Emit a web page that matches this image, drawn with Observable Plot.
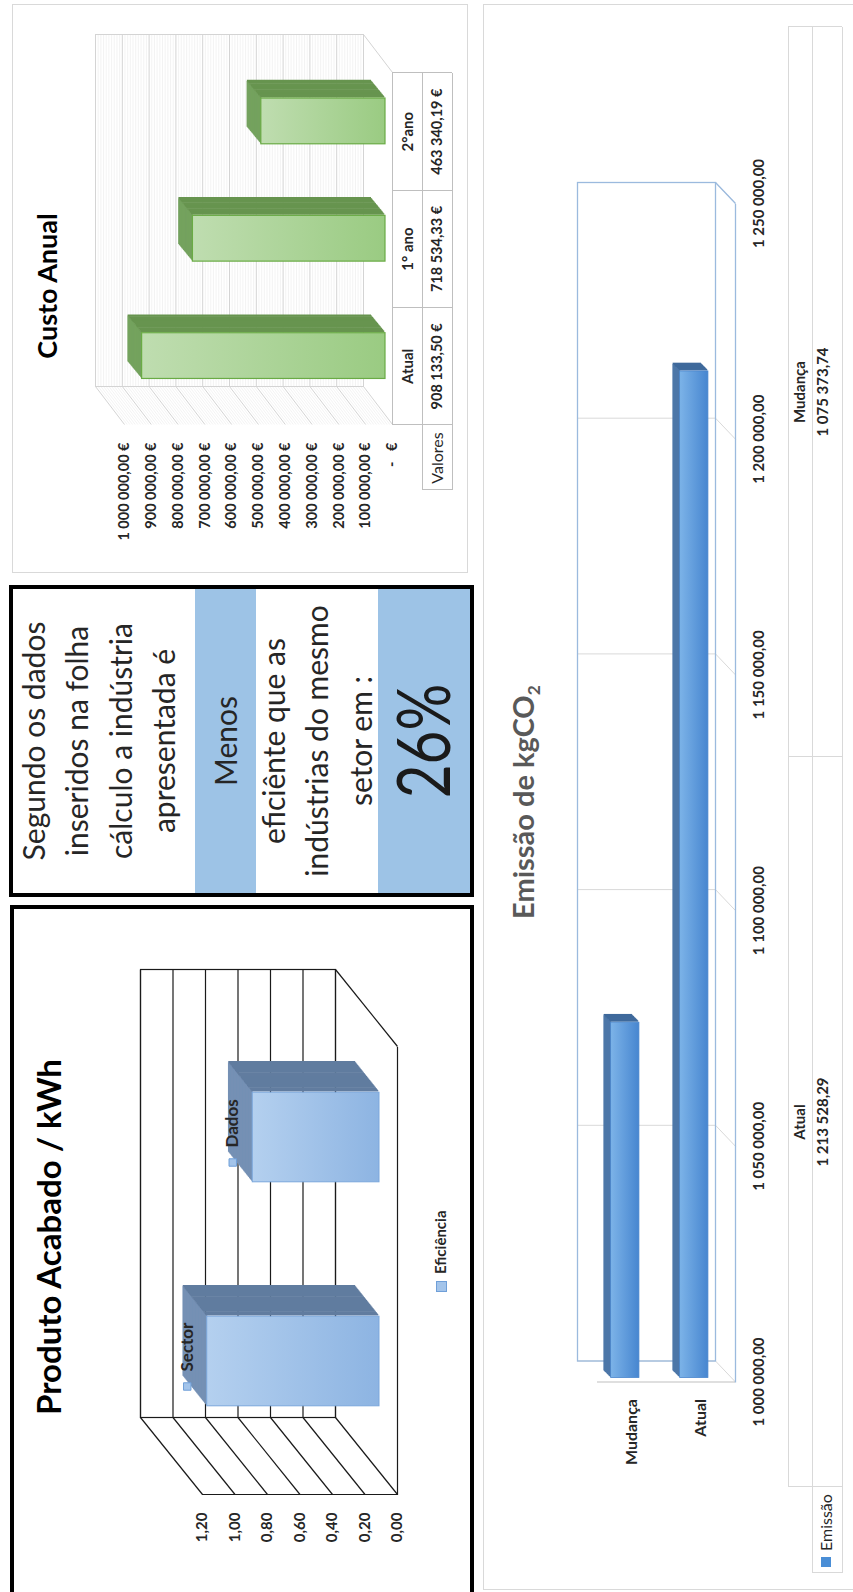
<!DOCTYPE html>
<html lang="pt">
<head>
<meta charset="utf-8">
<title>Painel de eficiência</title>
<script src="https://cdn.jsdelivr.net/npm/d3@7"></script>
<script src="https://cdn.jsdelivr.net/npm/@observablehq/plot@0.6"></script>
<style>
  html, body { margin:0; padding:0; background:#fff; overflow:hidden; }
  body { width:853px; height:1592px; position:relative; font-family: Lato, "Open Sans", sans-serif; }
  #land { position:absolute; left:0; top:0; width:1592px; height:853px; transform-origin:0 0;
          transform: translate(0px,1592px) rotate(-90deg); background:#fff; }
  .box { position:absolute; box-sizing:border-box; }
  .txt { position:absolute; white-space:nowrap; line-height:1.2; }
  .sub { position:relative; top:6px; font-size:0.6em; }
</style>
</head>
<body>
<svg width="0" height="0" style="position:absolute;left:0;top:0">
  <defs>
    <linearGradient id="gProd" x1="0" y1="0" x2="0" y2="1">
      <stop offset="0" stop-color="#b4d0ef"/><stop offset="1" stop-color="#8db4e2"/>
    </linearGradient>
    <linearGradient id="gCusto" x1="0" y1="0" x2="0" y2="1">
      <stop offset="0" stop-color="#bfddb0"/><stop offset="1" stop-color="#9acb82"/>
    </linearGradient>
    <linearGradient id="gEmis" x1="0" y1="0" x2="0" y2="1">
      <stop offset="0" stop-color="#7cb3e8"/><stop offset="1" stop-color="#4786d0"/>
    </linearGradient>
  </defs>
</svg>
<div id="land"></div>
<script>
// ---------------- DATA ----------------
const prodCategories = ["Sector", "Dados"];
const prodValues = [1.06, 0.78];
const prodTicks = [0, 0.2, 0.4, 0.6, 0.8, 1.0, 1.2];
const prodTickLabels = ["0,00", "0,20", "0,40", "0,60", "0,80", "1,00", "1,20"];
const prodSeriesName = "Eficiência";

const messageIntro = ["Segundo os dados", "inseridos na folha", "cálculo a indústria", "apresentada é"];
const messageVerdict = "Menos";
const messageDetail = ["eficiênte que as", "indústrias do mesmo", "setor em :"];
const messageValue = "26%";

const custoCategories = ["Atual", "1° ano", "2°ano"];
const custoValues = [908133.50, 718534.33, 463340.19];
const custoTicks = [0, 100000, 200000, 300000, 400000, 500000, 600000, 700000, 800000, 900000, 1000000];
const custoRowHeader = "Valores";

const emisCategories = ["Mudança", "Atual"];
const emisValues = [1075373.74, 1213528.29];
const emisTicks = [1000000, 1050000, 1100000, 1150000, 1200000, 1250000];
const emisSeriesName = "Emissão";

// ---------------- HELPERS ----------------
const land = document.getElementById("land");
const loc = d3.formatLocale({decimal: ",", thousands: " ", grouping: [3], currency: ["", ""]});
const fmt2 = loc.format(",.2f");

function addText(content, o) {
  const d = document.createElement("div");
  d.className = "txt";
  if (o.html) d.innerHTML = content; else d.textContent = content;
  d.style.fontSize = o.size + "px";
  d.style.fontWeight = o.weight || 400;
  d.style.color = o.color || "#262626";
  d.style.fontFamily = "Lato, 'Open Sans', sans-serif";
  d.style.top = (o.baseline - 0.987 * o.size) + "px";
  const sx = o.scaleX || 1;
  if (o.anchor === "start") {
    d.style.left = o.x + "px"; d.style.transformOrigin = "0 50%"; d.style.transform = `scaleX(${sx})`;
  } else {
    d.style.left = o.x + "px"; d.style.transform = `translateX(-50%) scaleX(${sx})`;
  }
  land.appendChild(d);
  return d;
}
function box(x1, y1, x2, y2, style) {
  const d = document.createElement("div");
  d.className = "box";
  Object.assign(d.style, {left: x1 + "px", top: y1 + "px", width: (x2 - x1) + "px", height: (y2 - y1) + "px"}, style);
  land.appendChild(d);
  return d;
}
function hline(x1, x2, y, c) { box(x1, y - 0.5, x2, y + 0.5, {background: c}); }
function vline(x, y1, y2, c) { box(x - 0.5, y1, x + 0.5, y2, {background: c}); }
function place(svg, left, top) {
  svg.style.position = "absolute"; svg.style.left = left + "px"; svg.style.top = top + "px";
  land.appendChild(svg);
}
// 3D faces built from repeated rules offset along the depth direction
function depthFaces(n, ox, oy, ex, ey, topRule, sideRule) {
  const m = [];
  for (let k = n; k >= 1; k--) {
    const dx = ox + ex * k / n, dy = oy + ey * k / n;
    m.push(topRule(dx, dy), sideRule(dx, dy));
  }
  return m;
}

// ---------------- PANEL BORDERS ----------------
box(-4, 10, 687, 474, {border: "4px solid #000"});
box(695, 9, 1007, 474, {border: "4px solid #000"});
box(1019, 12, 1588, 468, {border: "1.5px solid #d9d9d9"});
box(2, 483, 1588, 858, {border: "1.5px solid #d9d9d9"});

// ---------------- PANEL 1 : Produto Acabado / kWh ----------------
{
  const W = 687, H = 474;
  const xr = [97, 545], yr = [397, 202];
  const DX = 77, DY = 62;
  const dxu = DX * 2 / (xr[1] - xr[0]);
  const dyu = DY * 1.2 / (yr[0] - yr[1]);
  const prod = prodCategories.map((c, i) => ({cat: c, i, v: prodValues[i]}));
  const lineC = "#1a1a1a";
  const bx1 = d => d.i + 0.3, bx2 = d => d.i + 0.7;
  const svg = Plot.plot({
    width: W, height: H,
    marginLeft: xr[0], marginRight: W - xr[1], marginTop: yr[1], marginBottom: H - yr[0],
    x: {domain: [0, 2], range: xr, axis: null},
    y: {domain: [0, 1.2], range: yr, axis: null},
    style: {background: "transparent", fontFamily: "Lato, sans-serif", overflow: "visible"},
    marks: [
      Plot.ruleY(prodTicks, {dx: DX, dy: -DY, stroke: lineC, strokeWidth: 1.2}),
      Plot.frame({dx: DX, dy: -DY, stroke: lineC, strokeWidth: 1.2}),
      Plot.link(prodTicks, {x1: () => 0, y1: d => d, x2: () => dxu, y2: d => d + dyu, stroke: lineC, strokeWidth: 1.2}),
      Plot.ruleX([0], {y1: () => 0, y2: () => 1.2, stroke: lineC, strokeWidth: 1.2}),
      Plot.ruleY([0], {stroke: lineC, strokeWidth: 1.2}),
      Plot.link([0], {x1: () => 2, y1: () => 0, x2: () => 2 + dxu, y2: () => dyu, stroke: lineC, strokeWidth: 1.2}),
      ...depthFaces(32, 22, -18, 30, -24,
        (dx, dy) => Plot.ruleY(prod, {y: d => d.v, x1: bx1, x2: bx2, dx, dy, stroke: "#7590b4", strokeWidth: 1.6}),
        (dx, dy) => Plot.ruleX(prod, {x: bx2, y1: () => 0, y2: d => d.v, dx, dy, stroke: "#617c9f", strokeWidth: 1.6})),
      Plot.rect(prod, {x1: bx1, x2: bx2, y1: () => 0, y2: d => d.v, dx: 22, dy: -18,
        fill: "url(#gProd)", stroke: "#7ba7dc", strokeWidth: 1}),
      Plot.dot(prod, {x: d => d.i + 0.5, y: d => d.v, dx: -4, dy: -38, symbol: "square", r: 4.2,
        fill: "#a3c4ea", stroke: "#6f9fd8", strokeWidth: 1}),
      Plot.text(prod, {x: d => d.i + 0.5, y: d => d.v, text: d => d.cat, dx: 11, dy: -38, textAnchor: "start",
        fontSize: 17, fontWeight: 700, fill: "#262626"}),
      Plot.text(prodTicks, {x: () => 0, y: d => d, text: (d, i) => prodTickLabels[i], textAnchor: "end", dx: -18,
        fontSize: 15, fontWeight: 700, fill: "#262626"})
    ]
  });
  place(svg, 0, 0);
  addText("Produto Acabado / kWh", {x: 355, baseline: 62, size: 33, weight: 700, color: "#000"});
  box(300, 436, 311, 447, {background: "#a3c4ea", border: "1px solid #6f9fd8"});
  addText(prodSeriesName, {x: 318, baseline: 446, size: 15, weight: 700, anchor: "start", color: "#262626"});
}

// ---------------- PANEL 2 : message ----------------
{
  box(699, 195, 1003, 256, {background: "#9dc3e6"});
  box(699, 378, 1003, 470, {background: "#9dc3e6"});
  const cx = 851;
  const introBase = [45, 88, 132, 175];
  messageIntro.forEach((t, i) => addText(t, {x: cx, baseline: introBase[i], size: 30, weight: 400}));
  addText(messageVerdict, {x: cx, baseline: 237, size: 30, weight: 400});
  const detailBase = [285, 328, 372];
  messageDetail.forEach((t, i) => addText(t, {x: cx, baseline: detailBase[i], size: 30, weight: 400}));
  addText(messageValue, {x: cx, baseline: 451, size: 73, weight: 400, scaleX: 0.8, color: "#1a1a1a"});
}

// ---------------- PANEL 3 : Custo Anual ----------------
{
  const L = 1019, T = 12, W = 569, H = 456;
  const xr = [1167, 1519], yr = [392, 124];
  const DX = 38, DY = 29;
  const dxu = DX * 3 / (xr[1] - xr[0]);
  const dyu = DY * 1e6 / (yr[0] - yr[1]);
  const custo = custoCategories.map((c, i) => ({cat: c, i, v: custoValues[i]}));
  const minor = d3.range(10000, 1000000, 10000).filter(v => v % 100000 !== 0);
  const bx1 = d => d.i + 0.32, bx2 = d => d.i + 0.71;
  const grid = "#d4d4d4";
  const svg = Plot.plot({
    width: W, height: H,
    marginLeft: xr[0] - L, marginRight: L + W - xr[1], marginTop: yr[1] - T, marginBottom: T + H - yr[0],
    x: {domain: [0, 3], range: [xr[0] - L, xr[1] - L], axis: null},
    y: {domain: [0, 1e6], range: [yr[0] - T, yr[1] - T], axis: null},
    style: {background: "transparent", fontFamily: "Lato, sans-serif", overflow: "visible"},
    marks: [
      Plot.ruleY(minor, {dx: DX, dy: -DY, stroke: "#ebebeb", strokeWidth: 0.6}),
      Plot.link(minor, {x1: () => 0, y1: d => d, x2: () => dxu, y2: d => d + dyu, stroke: "#ebebeb", strokeWidth: 0.6}),
      Plot.ruleY(custoTicks, {dx: DX, dy: -DY, stroke: grid}),
      Plot.link(custoTicks, {x1: () => 0, y1: d => d, x2: () => dxu, y2: d => d + dyu, stroke: grid}),
      Plot.frame({dx: DX, dy: -DY, stroke: grid}),
      Plot.link([0], {x1: () => 3, y1: () => 0, x2: () => 3 + dxu, y2: () => dyu, stroke: grid}),
      Plot.ruleY([0], {stroke: "#bfbfbf"}),
      ...depthFaces(20, 9, -7, 17, -14,
        (dx, dy) => Plot.ruleY(custo, {y: d => d.v, x1: bx1, x2: bx2, dx, dy, stroke: "#74a25e", strokeWidth: 1.5}),
        (dx, dy) => Plot.ruleX(custo, {x: bx2, y1: () => 0, y2: d => d.v, dx, dy, stroke: "#67944f", strokeWidth: 1.5})),
      Plot.rect(custo, {x1: bx1, x2: bx2, y1: () => 0, y2: d => d.v, dx: 9, dy: -7,
        fill: "url(#gCusto)", stroke: "#6aab45", strokeWidth: 1.2}),
      Plot.text(custoTicks, {x: () => 0, y: d => d, text: d => d === 0 ? "-\u00a0\u00a0\u00a0€" : fmt2(d) + " €",
        textAnchor: "end", dx: -18, fontSize: 14.5, fontWeight: 700, fill: "#262626"})
    ]
  });
  place(svg, L, T);
  addText("Custo Anual", {x: 1306, baseline: 58, size: 27, weight: 700, color: "#000"});
  // data table
  const step = (xr[1] - xr[0]) / 3;
  const tc = "#bfbfbf";
  hline(1102, xr[1], 422, tc); hline(1102, xr[1], 452, tc);
  vline(1102, 422, 452, tc);
  for (let i = 0; i <= 3; i++) vline(xr[0] + i * step, 392, 452, tc);
  custo.forEach(d => {
    const cxp = xr[0] + (d.i + 0.5) * step;
    addText(d.cat, {x: cxp, baseline: 413, size: 15, weight: 700});
    addText(fmt2(d.v) + " €", {x: cxp, baseline: 442, size: 14.5, weight: 700});
  });
  addText(custoRowHeader, {x: 1134, baseline: 443, size: 16, weight: 400});
}

// ---------------- PANEL 4 : Emissão de kgCO2 ----------------
{
  const L = 2, T = 483, W = 1586, H = 370;
  const xr = [209.5, 1388], yr = [597, 735];
  const DX = 21, DY = 20;
  const dxu = DX * 250000 / (xr[1] - xr[0]);
  const dyu = DY * 2 / (yr[1] - yr[0]);
  const emis = emisCategories.map((c, i) => ({cat: c, i, v: emisValues[i]}));
  const by1 = d => d.i + 0.27, by2 = d => d.i + 0.68;
  const grid = "#d9d9d9", blue = "#9bbade";
  const svg = Plot.plot({
    width: W, height: H,
    marginLeft: xr[0] - L, marginRight: L + W - xr[1], marginTop: yr[0] - T, marginBottom: T + H - yr[1],
    x: {domain: [1000000, 1250000], range: [xr[0] - L, xr[1] - L], axis: null},
    y: {domain: [0, 2], range: [yr[0] - T, yr[1] - T], axis: null},
    style: {background: "transparent", fontFamily: "Lato, sans-serif", overflow: "visible"},
    marks: [
      Plot.ruleX(emisTicks, {dx: DX, dy: -DY, stroke: grid}),
      Plot.link(emisTicks, {x1: d => d, y1: () => 2, x2: d => d + dxu, y2: () => 2 - dyu, stroke: grid}),
      Plot.ruleX([1000000], {stroke: "#bfbfbf"}),
      Plot.frame({dx: DX, dy: -DY, stroke: blue, strokeWidth: 1.3}),
      Plot.ruleY([2], {stroke: blue, strokeWidth: 1.3}),
      Plot.link([1250000], {x1: d => d, y1: () => 2, x2: d => d + dxu, y2: () => 2 - dyu, stroke: blue, strokeWidth: 1.3}),
      ...depthFaces(10, 5, -5, 7, -7,
        (dx, dy) => Plot.ruleY(emis, {y: by1, x1: () => 1000000, x2: d => d.v, dx, dy, stroke: "#4d77a8", strokeWidth: 1.5}),
        (dx, dy) => Plot.ruleX(emis, {x: d => d.v, y1: by1, y2: by2, dx, dy, stroke: "#3f6a9c", strokeWidth: 1.5})),
      Plot.rect(emis, {x1: () => 1000000, x2: d => d.v, y1: by1, y2: by2, dx: 5, dy: -5,
        fill: "url(#gEmis)", stroke: "#4a86cc", strokeWidth: 0.8}),
      Plot.text(emisTicks, {x: d => d, y: () => 2, text: d => fmt2(d), dy: 24,
        fontSize: 15, fontWeight: 700, fill: "#262626"}),
      Plot.text(emis, {x: () => 1000000, y: d => d.i + 0.5, text: d => d.cat, textAnchor: "end", dx: -17,
        fontSize: 16, fontWeight: 700, fill: "#262626"})
    ]
  });
  place(svg, L, T);
  addText("Emissão de kgCO<span class='sub'>2</span>", {html: true, x: 790, baseline: 535, size: 29, weight: 700, color: "#595959"});
  // data table
  const tc = "#d9d9d9";
  const tx0 = 105, tx1 = 1565, mid = (tx0 + tx1) / 2;
  hline(tx0, tx1, 788, tc); hline(19, tx1, 812, tc); hline(19, tx1, 842, tc);
  vline(19, 812, 842, tc); vline(tx0, 788, 842, tc); vline(mid, 788, 842, tc); vline(tx1, 788, 842, tc);
  const tableOrder = emis.slice().reverse();
  tableOrder.forEach((d, j) => {
    const cxp = tx0 + (j + 0.5) * (tx1 - tx0) / 2;
    addText(d.cat, {x: cxp, baseline: 805, size: 15, weight: 700});
    addText(fmt2(d.v), {x: cxp, baseline: 828, size: 15, weight: 700});
  });
  box(25, 821, 35, 831, {background: "#4a8ed6"});
  addText(emisSeriesName, {x: 41, baseline: 832, size: 16, weight: 400, anchor: "start"});
}
</script>
</body>
</html>
